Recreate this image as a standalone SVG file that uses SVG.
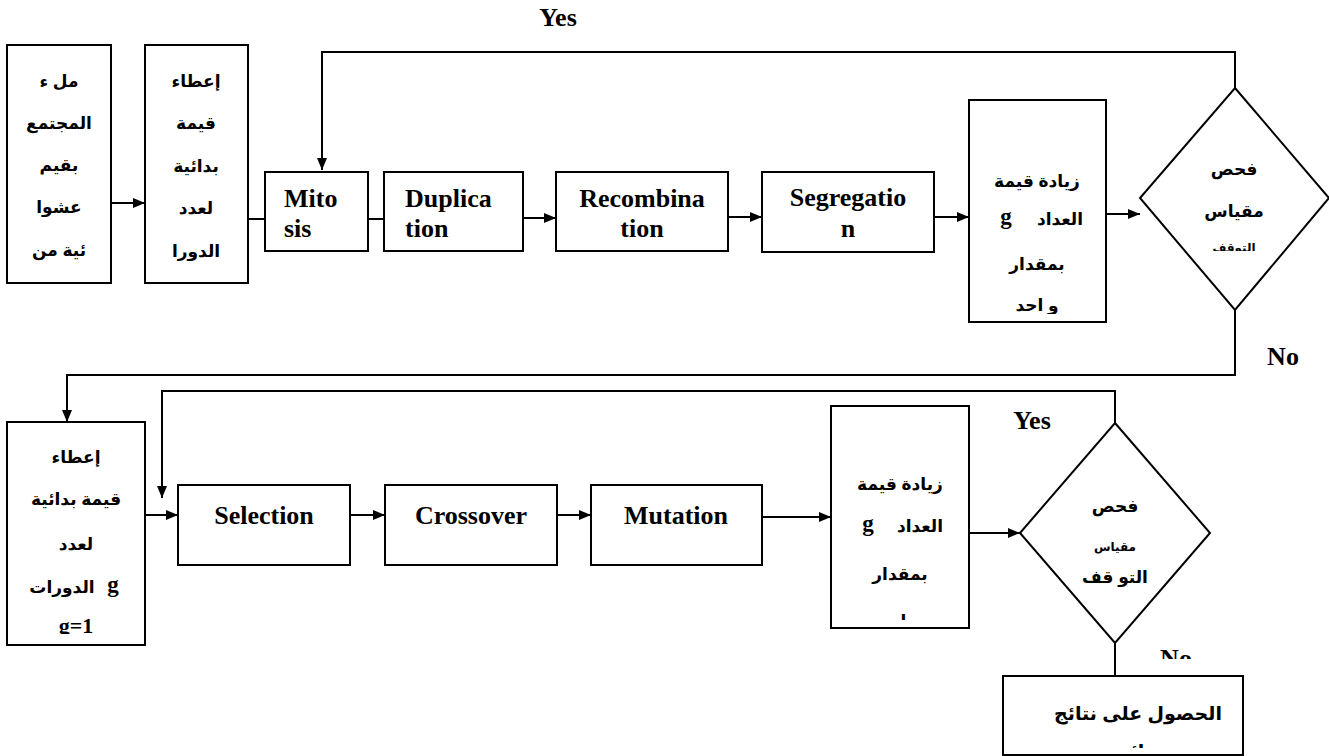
<svg xmlns="http://www.w3.org/2000/svg" width="1329" height="756" viewBox="0 0 1329 756">
  <style>
    .box { fill: #fff; stroke: #000; stroke-width: 2; }
    .wire { fill: none; stroke: #000; stroke-width: 2; }
    .en { font-family: 'Liberation Serif', 'Times New Roman', serif; font-weight: bold; font-size: 26px; fill: #000; }
    .ar { font-family: 'Liberation Sans', 'DejaVu Sans', sans-serif; font-weight: bold; font-size: 17px; fill: #000; text-anchor: middle; }
    .mid { text-anchor: middle; }
    .sm { font-size: 12px; }
    .var { font-size: 23px; }
  </style>
  <defs>
    <marker id="arr" viewBox="0 0 12 10" refX="12" refY="5" markerWidth="12" markerHeight="10" markerUnits="userSpaceOnUse" orient="auto">
      <path d="M0,0 L12,5 L0,10 Z" fill="#000"/>
    </marker>
    <clipPath id="c-inc1"><rect x="969" y="100" width="137" height="214"/></clipPath>
    <clipPath id="c-inc2"><rect x="831" y="406" width="138" height="214"/></clipPath>
    <clipPath id="c-dia1"><rect x="1150" y="150" width="170" height="101"/></clipPath>
    <clipPath id="c-init2"><rect x="7" y="422" width="138" height="212"/></clipPath>
    <clipPath id="c-final"><rect x="1003" y="676" width="240" height="72"/></clipPath>
    <clipPath id="c-no2"><rect x="1140" y="630" width="80" height="29"/></clipPath>
  </defs>

  <!-- connectors -->
  <g id="connectors">
    <line class="wire" x1="111" y1="203" x2="145" y2="203" marker-end="url(#arr)"/>
    <line class="wire" x1="248" y1="219" x2="265" y2="219"/>
    <line class="wire" x1="368" y1="219" x2="384" y2="219"/>
    <line class="wire" x1="523" y1="218" x2="556" y2="218" marker-end="url(#arr)"/>
    <line class="wire" x1="728" y1="217" x2="762" y2="217" marker-end="url(#arr)"/>
    <line class="wire" x1="934" y1="217" x2="969" y2="217" marker-end="url(#arr)"/>
    <line class="wire" x1="1106" y1="214" x2="1140" y2="214" marker-end="url(#arr)"/>
    <!-- first loop back -->
    <polyline class="wire" points="1235,88 1235,52 322,52 322,170" marker-end="url(#arr)"/>
    <!-- first exit -->
    <polyline class="wire" points="1235,310 1235,375 67,375 67,422" marker-end="url(#arr)"/>
    <line class="wire" x1="145" y1="515" x2="178" y2="515" marker-end="url(#arr)"/>
    <line class="wire" x1="350" y1="515" x2="385" y2="515" marker-end="url(#arr)"/>
    <line class="wire" x1="557" y1="515" x2="591" y2="515" marker-end="url(#arr)"/>
    <line class="wire" x1="762" y1="517" x2="831" y2="517" marker-end="url(#arr)"/>
    <line class="wire" x1="969" y1="533" x2="1020" y2="533" marker-end="url(#arr)"/>
    <!-- second loop back -->
    <polyline class="wire" points="1115,423 1115,391 162,391 162,498" marker-end="url(#arr)"/>
    <!-- second exit -->
    <line class="wire" x1="1115" y1="643" x2="1115" y2="676"/>
  </g>

  <!-- labels on the branches -->
  <text class="en mid" x="558" y="26">Yes</text>
  <text class="en mid" x="1283" y="365">No</text>
  <text class="en mid" x="1032" y="429">Yes</text>
  <g clip-path="url(#c-no2)"><text class="en mid" x="1176" y="667">No</text></g>

  <g id="n-fill">
    <rect class="box" x="7" y="45" width="104" height="238"/>
    <text class="ar" x="59" y="87">مل ء</text>
    <text class="ar" x="59" y="129">المجتمع</text>
    <text class="ar" x="59" y="171">بقيم</text>
    <text class="ar" x="59" y="213">عشوا</text>
    <text class="ar" x="59" y="256">ئية من</text>
  </g>

  <g id="n-init1">
    <rect class="box" x="145" y="45" width="103" height="238"/>
    <text class="ar" x="196" y="87">إعطاء</text>
    <text class="ar" x="196" y="129">قيمة</text>
    <text class="ar" x="196" y="172">بدائية</text>
    <text class="ar" x="196" y="214">لعدد</text>
    <text class="ar" x="196" y="257">الدورا</text>
  </g>

  <g id="n-mitosis">
    <rect class="box" x="265" y="172" width="103" height="79"/>
    <text class="en" x="284" y="207">Mito</text>
    <text class="en" x="284" y="237">sis</text>
  </g>

  <g id="n-duplication">
    <rect class="box" x="384" y="172" width="139" height="79"/>
    <text class="en" x="405" y="207">Duplica</text>
    <text class="en" x="405" y="237">tion</text>
  </g>

  <g id="n-recombination">
    <rect class="box" x="556" y="172" width="172" height="79"/>
    <text class="en mid" x="642" y="207">Recombina</text>
    <text class="en mid" x="642" y="237">tion</text>
  </g>

  <g id="n-segregation">
    <rect class="box" x="762" y="172" width="172" height="80"/>
    <text class="en mid" x="848" y="206">Segregatio</text>
    <text class="en mid" x="848" y="237">n</text>
  </g>

  <g id="n-inc1">
    <rect class="box" x="969" y="100" width="137" height="222"/>
    <g clip-path="url(#c-inc1)">
      <text class="ar" x="1037" y="187">زيادة قيمة</text>
      <text class="en var mid" x="1006" y="224">g</text>
      <text class="ar" x="1060" y="225">العداد</text>
      <text class="ar" x="1037" y="270">بمقدار</text>
      <text class="ar" x="1037" y="311">و احد</text>
    </g>
  </g>

  <g id="n-check1">
    <polygon class="box" points="1235,88 1329,198 1235,310 1140,198"/>
    <text class="ar" x="1234" y="175">فحص</text>
    <text class="ar" x="1234" y="217">مقياس</text>
    <g clip-path="url(#c-dia1)"><text class="ar sm" x="1234" y="252">التوقف</text></g>
  </g>

  <g id="n-init2">
    <rect class="box" x="7" y="422" width="138" height="223"/>
    <g clip-path="url(#c-init2)">
      <text class="ar" x="76" y="463">إعطاء</text>
      <text class="ar" x="76" y="505">قيمة بدائية</text>
      <text class="ar" x="76" y="550">لعدد</text>
      <text class="ar" x="62" y="593">الدورات</text>
      <text class="en var mid" x="113" y="592">g</text>
      <text class="en mid" x="76" y="633" style="font-size:22px">g=1</text>
    </g>
  </g>

  <g id="n-selection">
    <rect class="box" x="178" y="485" width="172" height="80"/>
    <text class="en mid" x="264" y="524">Selection</text>
  </g>

  <g id="n-crossover">
    <rect class="box" x="385" y="485" width="172" height="80"/>
    <text class="en mid" x="471" y="524">Crossover</text>
  </g>

  <g id="n-mutation">
    <rect class="box" x="591" y="485" width="171" height="80"/>
    <text class="en mid" x="676" y="524">Mutation</text>
  </g>

  <g id="n-inc2">
    <rect class="box" x="831" y="406" width="138" height="222"/>
    <g clip-path="url(#c-inc2)">
      <text class="ar" x="900" y="490">زيادة قيمة</text>
      <text class="en var mid" x="868" y="531">g</text>
      <text class="ar" x="920" y="532">العداد</text>
      <text class="ar" x="900" y="580">بمقدار</text>
      <text class="ar" x="900" y="627">و احد</text>
    </g>
  </g>

  <g id="n-check2">
    <polygon class="box" points="1115,423 1210,533 1115,643 1020,533"/>
    <text class="ar" x="1115" y="512">فحص</text>
    <text class="ar sm" x="1115" y="551">مقياس</text>
    <text class="ar" x="1115" y="583">التو قف</text>
  </g>

  <g id="n-result">
    <rect class="box" x="1003" y="676" width="240" height="79"/>
    <g clip-path="url(#c-final)">
      <text class="ar" x="1138" y="720" style="font-size:19px">الحصول على نتائج</text>
      <text class="ar" x="1138" y="758" style="font-size:19px">نهائية</text>
    </g>
  </g>
</svg>
